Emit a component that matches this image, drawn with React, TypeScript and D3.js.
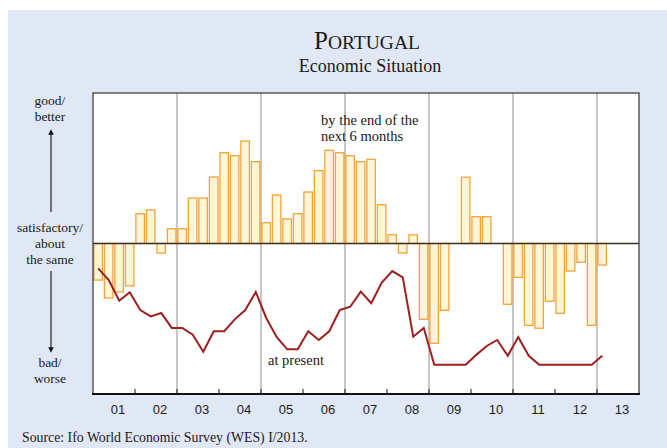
import React, { useEffect, useRef } from 'react';
import * as d3 from 'd3';

// quarterly survey, 2001 Q1 .. 2013 Q1
const years = ['01', '02', '03', '04', '05', '06', '07', '08', '09', '10', '11', '12', '13'];
const expectations = [
  -24.3, -36.2, -32.2, -28.2, 19.8, 22.3, -6.3, 9.8,
  9.8, 30.2, 30.2, 44.2, 60.3, 58.3, 68.1, 54.4,
  13.8, 32.2, 16.3, 19.8, 34.2, 48.4, 61.9, 60.3,
  58.3, 54.4, 55.9, 25.8, 5.8, -6.3, 5.8, -50.4,
  -66.3, -44.4, 0, 44.0, 17.8, 17.8, 0, -40.4,
  -22.5, -54.4, -56.3, -38.4, -46.4, -18.3, -12.5, -54.4,
  -14.3,
];
const present = [
  -16.5, -24.3, -38.0, -32.4, -44.2, -48.4, -46.2, -56.1,
  -56.1, -60.6, -71.9, -58.3, -58.3, -50.4, -44.2, -32.2,
  -49.5, -62.3, -70.3, -70.3, -58.3, -64.1, -58.3, -44.2,
  -42.0, -32.0, -39.7, -26.0, -18.3, -22.5, -61.9, -56.1,
  -80.5, -80.5, -80.5, -80.5, -74.0, -68.1, -64.1, -74.6,
  -62.1, -74.6, -80.5, -80.5, -80.5, -80.5, -80.5, -80.5,
  -74.6,
];

const W = 667;
const H = 448;
const left = 93;
const right = 639;
const top = 93;
const bottom = 394;

const App: React.FC = () => {
  const ref = useRef<SVGSVGElement | null>(null);

  useEffect(() => {
    const svg = d3.select(ref.current);
    svg.selectAll('*').remove();

    svg.append('rect').attr('width', W).attr('height', H).attr('fill', '#ffffff');
    svg.append('rect').attr('x', 8).attr('y', 10).attr('width', W - 8).attr('height', H - 10).attr('fill', '#e1e8f5');

    // title
    const title = svg.append('text')
      .attr('x', 367).attr('y', 49)
      .attr('text-anchor', 'middle')
      .attr('font-family', 'Liberation Serif, serif')
      .attr('fill', '#1a1a1a');
    title.append('tspan').attr('font-size', 25).text('P');
    title.append('tspan').attr('font-size', 19.5).text('ORTUGAL');
    svg.append('text')
      .attr('x', 370).attr('y', 72)
      .attr('text-anchor', 'middle')
      .attr('font-family', 'Liberation Serif, serif')
      .attr('font-size', 18)
      .attr('fill', '#1a1a1a')
      .text('Economic Situation');

    svg.append('rect')
      .attr('x', left).attr('y', top)
      .attr('width', right - left).attr('height', bottom - top)
      .attr('fill', '#ffffff');

    const x = d3.scaleLinear().domain([0, years.length]).range([left, right]);
    const y = d3.scaleLinear().domain([-100, 100]).range([bottom, top]);
    const q = (i: number) => x(i / 4);
    const bw = (x(1) - x(0)) / 4;

    // vertical gridlines at every second year
    const g = svg.append('g');
    years.forEach((_, k) => {
      if (k >= 2 && k % 2 === 0) {
        g.append('line')
          .attr('x1', x(k)).attr('x2', x(k))
          .attr('y1', top).attr('y2', bottom)
          .attr('stroke', '#8c8c8c').attr('stroke-width', 1);
      }
    });

    // bars: expectations
    svg.append('g').selectAll('rect')
      .data(expectations.map((v, i) => ({ v, i })).filter(d => d.v !== 0))
      .enter().append('rect')
      .attr('x', d => q(d.i) + 0.9)
      .attr('width', bw - 2)
      .attr('y', d => Math.min(y(d.v), y(0)))
      .attr('height', d => Math.abs(y(d.v) - y(0)))
      .attr('fill', '#fff6d8')
      .attr('stroke', '#f6a23a')
      .attr('stroke-width', 1.3);

    // zero line
    svg.append('line')
      .attr('x1', left).attr('x2', right)
      .attr('y1', y(0)).attr('y2', y(0))
      .attr('stroke', '#3b3226').attr('stroke-width', 1.4);

    // line: present situation
    const line = d3.line<number>()
      .x((_, i) => q(i) + bw / 2)
      .y(d => y(d));
    svg.append('path')
      .datum(present)
      .attr('d', line)
      .attr('fill', 'none')
      .attr('stroke', '#9e1f1f')
      .attr('stroke-width', 2)
      .attr('stroke-linejoin', 'miter');

    // frame
    svg.append('rect')
      .attr('x', left).attr('y', top)
      .attr('width', right - left).attr('height', bottom - top)
      .attr('fill', 'none').attr('stroke', '#333').attr('stroke-width', 1.2);
    svg.append('line')
      .attr('x1', left - 1).attr('x2', right + 1)
      .attr('y1', bottom).attr('y2', bottom)
      .attr('stroke', '#111').attr('stroke-width', 2);

    // x ticks and labels
    const ax = svg.append('g');
    years.forEach((lab, k) => {
      if (k > 0) {
        ax.append('line')
          .attr('x1', x(k)).attr('x2', x(k))
          .attr('y1', bottom - 5).attr('y2', bottom)
          .attr('stroke', '#111').attr('stroke-width', 1);
      }
      ax.append('text')
        .attr('x', x(k + 0.5) + 4).attr('y', 414)
        .attr('text-anchor', 'middle')
        .attr('font-family', 'Liberation Sans, Arial, sans-serif')
        .attr('font-size', 13)
        .attr('fill', '#1a1a1a')
        .text(lab);
    });

    // left-side annotations
    const serif = (tx: number, ty: number, s: string, size = 13.5, anchor = 'middle') =>
      svg.append('text')
        .attr('x', tx).attr('y', ty)
        .attr('text-anchor', anchor)
        .attr('font-family', 'Liberation Serif, serif')
        .attr('font-size', size)
        .attr('fill', '#1a1a1a')
        .text(s);
    serif(50, 105, 'good/');
    serif(50, 121, 'better');
    serif(50, 232, 'satisfactory/');
    serif(50, 248, 'about');
    serif(50, 264, 'the same');
    serif(50, 367, 'bad/');
    serif(50, 383, 'worse');

    const defs = svg.append('defs');
    defs.append('marker')
      .attr('id', 'ah').attr('viewBox', '0 0 10 10')
      .attr('refX', 5).attr('refY', 5)
      .attr('markerWidth', 5).attr('markerHeight', 5)
      .attr('orient', 'auto-start-reverse')
      .append('path').attr('d', 'M0,0 L10,5 L0,10 z').attr('fill', '#111');
    svg.append('line')
      .attr('x1', 51).attr('x2', 51).attr('y1', 212).attr('y2', 132)
      .attr('stroke', '#111').attr('stroke-width', 1.1)
      .attr('marker-end', 'url(#ah)');
    svg.append('line')
      .attr('x1', 51).attr('x2', 51).attr('y1', 271).attr('y2', 350)
      .attr('stroke', '#111').attr('stroke-width', 1.1)
      .attr('marker-end', 'url(#ah)');

    // in-plot labels
    serif(321, 125, 'by the end of the', 14.5, 'start');
    serif(321, 141, 'next 6 months', 14.5, 'start');
    serif(268, 365, 'at present', 14.5, 'start');

    serif(22, 442, 'Source: Ifo World Economic Survey (WES) I/2013.', 13.8, 'start');
  }, []);

  return (
    <svg
      ref={ref}
      width={W}
      height={H}
      style={{ position: 'absolute', left: 0, top: 0 }}
    />
  );
};

export default App;
